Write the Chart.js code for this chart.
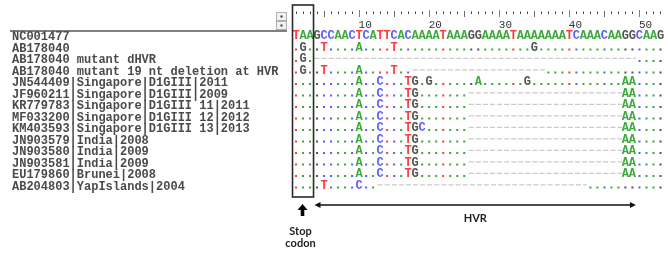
<!DOCTYPE html>
<html><head><meta charset="utf-8">
<script src="https://cdn.jsdelivr.net/npm/chart.js@4.4.0/dist/chart.umd.min.js"></script>
<style>html,body{margin:0;padding:0;background:#fff;} #wrap{width:668px;height:254px;position:relative;}</style>
</head><body><div id="wrap"><canvas id="c"></canvas></div>
<script>
// ---- data ----
const sequenceNames = [
  "NC001477",
  "AB178040",
  "AB178040 mutant dHVR",
  "AB178040 mutant 19 nt deletion at HVR",
  "JN544409|Singapore|D1GIII|2011",
  "JF960211|Singapore|D1GIII|2009",
  "KR779783|Singapore|D1GIII 11|2011",
  "MF033200|Singapore|D1GIII 12|2012",
  "KM403593|Singapore|D1GIII 13|2013",
  "JN903579|India|2008",
  "JN903580|India|2009",
  "JN903581|India|2009",
  "EU179860|Brunei|2008",
  "AB204803|YapIslands|2004"
];
const referenceSeq = "TAAGCCAACTCATTCACAAAATAAAGGAAAATAAAAAAATCAAACAAGGCAAG";
const alignedRows = [
  referenceSeq,
  ".G..T....A" + "....T....." + ".........." + "....G....." + ".........." + "...",
  ".G.-------" + "----------" + "----------" + "----------" + "---------." + "...",
  ".G..T....A" + "....T..---" + "----------" + "------...." + ".........." + "...",
  ".........A" + "..C...TG.G" + "......A..." + "...G......" + ".......AA." + "...",
  ".........A" + "..C...TG.." + ".....-----" + "----------" + "-------AA." + "...",
  ".........A" + "..C...TG.." + ".....-----" + "----------" + "-------AA." + "...",
  ".........A" + "..C...TG.." + ".....-----" + "----------" + "-------AA." + "...",
  ".........A" + "..C...TGC." + ".....-----" + "----------" + "-------AA." + "...",
  ".........A" + "..C...TG.." + ".....-----" + "----------" + "-------AA." + "...",
  ".........A" + "..C...TG.." + ".....-----" + "----------" + "-------AA." + "...",
  ".........A" + "..C...TG.." + ".....-----" + "----------" + "-------AA." + "...",
  ".........A" + "..C...TG.." + ".....-----" + "----------" + "-------AA." + "...",
  "....T....C" + "..--------" + "----------" + "----------" + "--........" + "..."
];
const rulerLabels = [10, 20, 30, 40, 50];
const stopCodonCols = [1, 3];
const hvrCols = [4, 49];

// ---- styles ----
const baseColors = {A: '#3da93d', C: '#5e5eff', G: '#555555', T: '#ff3c3c'};
const nCols = referenceSeq.length;

// ---- build datasets ----
const dotPoints = [];
const dashSets = [];
alignedRows.forEach((row, r) => {
  let runStart = null;
  for (let i = 0; i < row.length; i++) {
    const ch = row[i];
    const p = i + 1;
    if (ch === '.') dotPoints.push({x: p, y: r + 0.09, b: referenceSeq[i]});
    if (ch === '-') { if (runStart === null) runStart = p; }
    if ((ch !== '-' || i === row.length - 1) && runStart !== null) {
      const end = ch === '-' ? p : p - 1;
      dashSets.push({
        data: [{x: runStart - 0.5, y: r - 0.14}, {x: end + 0.5, y: r - 0.14}],
        showLine: true, borderColor: '#cacaca', borderWidth: 1.2,
        borderDash: [5, 2.085], borderDashOffset: -1, pointRadius: 0
      });
      runStart = null;
    }
  }
});

const alignPlugin = {
  id: 'alignPlugin',
  beforeDatasetsDraw(chart) {
    const ctx = chart.ctx, xs = chart.scales.x;
    ctx.save();
    // ruler
    for (let p = 1; p <= nCols; p++) {
      const x = Math.round(xs.getPixelForValue(p)) + 0.5;
      ctx.beginPath();
      if (p % 10 === 0) { ctx.strokeStyle = '#a06a9c'; ctx.moveTo(x, 10); ctx.lineTo(x, 17); }
      else if (p % 5 === 0) { ctx.strokeStyle = '#6a6a6a'; ctx.moveTo(x, 11); ctx.lineTo(x, 17); }
      else { ctx.strokeStyle = '#444'; ctx.moveTo(x, 11.5); ctx.lineTo(x, 14); }
      ctx.lineWidth = 1;
      ctx.stroke();
    }
    ctx.fillStyle = '#333';
    ctx.font = '11px "Liberation Mono"';
    ctx.textAlign = 'left';
    ctx.textBaseline = 'middle';
    rulerLabels.forEach(v => ctx.fillText(String(v), xs.getPixelForValue(v) - 0.5, 25));
    // name panel separator + scroll buttons
    ctx.fillStyle = '#f2f2f2';
    ctx.strokeStyle = '#b0b0b0';
    ctx.lineWidth = 1;
    [[276.5, 12.5], [276.5, 21.5]].forEach(([bx, by]) => {
      ctx.fillRect(bx, by, 10, 8); ctx.strokeRect(bx, by, 10, 8);
      ctx.fillStyle = '#333'; ctx.fillRect(bx + 4, by + 3, 2, 2); ctx.fillStyle = '#f2f2f2';
    });
    ctx.strokeStyle = '#555';
    ctx.lineWidth = 1.6;
    ctx.beginPath(); ctx.moveTo(10, 31); ctx.lineTo(287, 31); ctx.stroke();
    ctx.restore();
  },
  afterDatasetsDraw(chart) {
    const ctx = chart.ctx, xs = chart.scales.x, ys = chart.scales.y;
    ctx.save();
    ctx.font = 'bold 12px "Liberation Mono"';
    ctx.textAlign = 'center';
    ctx.textBaseline = 'middle';
    alignedRows.forEach((row, r) => {
      for (let i = 0; i < row.length; i++) {
        const ch = row[i];
        if (baseColors[ch]) {
          ctx.fillStyle = baseColors[ch];
          ctx.fillText(ch, xs.getPixelForValue(i + 1), ys.getPixelForValue(r) - 1);
        }
      }
    });
    // stop codon box
    const bx0 = xs.getPixelForValue(stopCodonCols[0] - 0.5);
    const bx1 = xs.getPixelForValue(stopCodonCols[1] + 0.5);
    ctx.strokeStyle = '#2a2a2a';
    ctx.lineWidth = 1.6;
    ctx.strokeRect(bx0, 5, bx1 - bx0, 192);
    // up arrow
    const cx = xs.getPixelForValue((stopCodonCols[0] + stopCodonCols[1]) / 2) - 0.5;
    ctx.fillStyle = '#000';
    ctx.beginPath(); ctx.moveTo(cx - 5, 210); ctx.lineTo(cx, 204); ctx.lineTo(cx + 5, 210); ctx.closePath(); ctx.fill();
    ctx.fillRect(cx - 1.8, 209.5, 3.6, 6.5);
    ctx.font = 'bold 11px Lato';
    ctx.fillStyle = '#222';
    ctx.textAlign = 'center';
    ctx.fillText('Stop', cx - 2, 231);
    ctx.fillText('codon', cx - 2, 243);
    // HVR double arrow
    const hx0 = xs.getPixelForValue(hvrCols[0] - 0.5) + 1;
    const hx1 = xs.getPixelForValue(hvrCols[1] + 0.5);
    const hy = 205;
    ctx.strokeStyle = '#111';
    ctx.lineWidth = 1.5;
    ctx.beginPath(); ctx.moveTo(hx0 + 3, hy); ctx.lineTo(hx1 - 3, hy); ctx.stroke();
    ctx.fillStyle = '#111';
    ctx.beginPath(); ctx.moveTo(hx0, hy); ctx.lineTo(hx0 + 6, hy - 3); ctx.lineTo(hx0 + 6, hy + 3); ctx.closePath(); ctx.fill();
    ctx.beginPath(); ctx.moveTo(hx1, hy); ctx.lineTo(hx1 - 6, hy - 3); ctx.lineTo(hx1 - 6, hy + 3); ctx.closePath(); ctx.fill();
    ctx.fillStyle = '#222';
    ctx.fillText('HVR', (hx0 + hx1) / 2, 218);
    ctx.restore();
  }
};

new Chart(document.getElementById('c'), {
  type: 'scatter',
  data: {
    datasets: [{
      data: dotPoints,
      pointStyle: 'rect',
      pointRadius: 1.45,
      pointBorderWidth: 0,
      borderWidth: 0,
      backgroundColor: ctx => (ctx.raw && baseColors[ctx.raw.b]) || '#888'
    }].concat(dashSets)
  },
  options: {
    responsive: true,
    maintainAspectRatio: false,
    animation: false,
    events: [],
    layout: {padding: {left: 12, right: 0, top: 31.25, bottom: 61.75}},
    plugins: {legend: {display: false}, tooltip: {enabled: false}},
    scales: {
      x: {type: 'linear', display: false, min: 0.5, max: nCols + 0.5},
      y: {type: 'linear', display: false, min: -0.5, max: alignedRows.length - 0.5, reverse: true},
      names: {
        type: 'category', position: 'left', labels: sequenceNames, offset: true,
        grid: {display: false, drawTicks: false}, border: {display: false},
        ticks: {crossAlign: 'far', padding: 0, autoSkip: false, color: '#4a4a4a',
                font: {family: '"Liberation Mono"', size: 12, weight: 'bold'}},
        afterFit: s => { s.width = 280.5; }
      }
    }
  },
  plugins: [alignPlugin]
});
</script>
</body></html>
